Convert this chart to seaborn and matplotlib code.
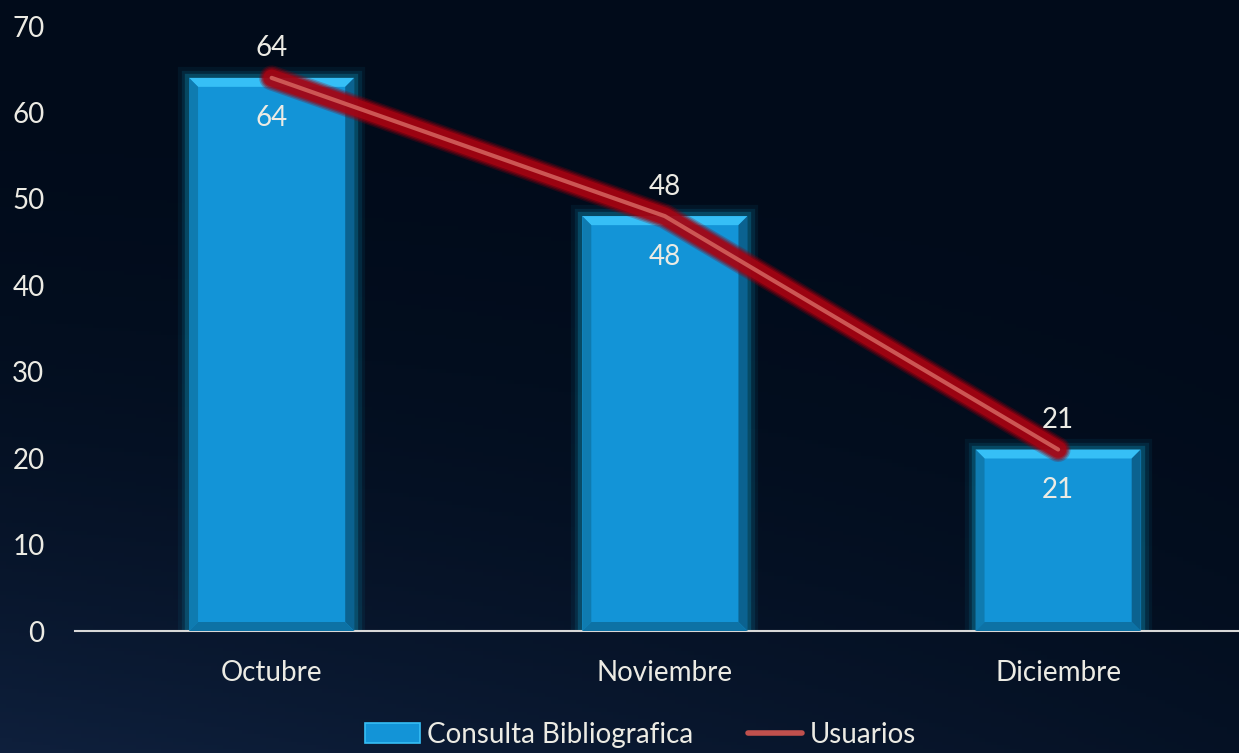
import numpy as np
import matplotlib
matplotlib.use("Agg")
import matplotlib.pyplot as plt
import matplotlib.patheffects as pe
from matplotlib.patches import Polygon, Patch
from matplotlib.lines import Line2D
import seaborn as sns

meses = ["Octubre", "Noviembre", "Diciembre"]
consulta = [64, 48, 21]
usuarios = [64, 48, 21]
yticks = [0, 10, 20, 30, 40, 50, 60, 70]

sns.set_theme(style="dark")
plt.rcParams['font.family'] = ['Lato', 'DejaVu Sans']

TXT = "#ecebe4"
BAR = "#1394d7"
FS = 20

fig = plt.figure(figsize=(12.39, 7.53), dpi=100)
fig.patch.set_facecolor("#020c1d")

# background gradient
bg = fig.add_axes([0, 0, 1, 1], zorder=-10)
yy, xx = np.mgrid[0:1:200j, 0:1:200j]
g = np.clip(0.55 * (1 - xx) * (1 - yy) ** 2 + 0.25 * (1 - yy) ** 3, 0, 1)
c0 = np.array([0x01, 0x0b, 0x1a]) / 255
c1 = np.array([0x12, 0x25, 0x45]) / 255
img = c0[None, None, :] + (c1 - c0)[None, None, :] * g[..., None]
bg.imshow(img[::-1], extent=[0, 1, 0, 1], aspect="auto", origin="upper")
bg.axis("off")

ax = fig.add_axes([75 / 1239, 122 / 753, 1164 / 1239, 605 / 753])
ax.set_facecolor("none")

sns.barplot(x=meses, y=consulta, color=BAR, width=0.42, saturation=1,
            ax=ax, zorder=2, edgecolor="none")
ax.set_xlim(-0.5, 2.46)
ax.set_ylim(0, 70)

fig.canvas.draw()
# bevel decoration derived from each bar patch
inv = ax.transData.inverted()
p0 = inv.transform((0, 0))
p1 = inv.transform((9, 9))
bx, by = p1 - p0
glow = [pe.Stroke(linewidth=16, foreground="#0a6a8c", alpha=0.12),
        pe.Stroke(linewidth=11, foreground="#0c7598", alpha=0.2),
        pe.Stroke(linewidth=6, foreground="#0e84aa", alpha=0.35),
        pe.Normal()]
for bar in list(ax.patches):
    bar.set_path_effects(glow)
    x0 = bar.get_x(); w = bar.get_width(); h = bar.get_height(); x1 = x0 + w
    top = Polygon([(x0, h), (x1, h), (x1 - bx, h - by), (x0 + bx, h - by)],
                  closed=True, facecolor="#36bff6", edgecolor="none", zorder=3)
    left = Polygon([(x0, 0), (x0, h), (x0 + bx, h - by), (x0 + bx, by)],
                   closed=True, facecolor="#0f7bb0", edgecolor="none", zorder=3)
    right = Polygon([(x1, 0), (x1, h), (x1 - bx, h - by), (x1 - bx, by)],
                    closed=True, facecolor="#0b6290", edgecolor="none", zorder=3)
    bot = Polygon([(x0, 0), (x1, 0), (x1 - bx, by), (x0 + bx, by)],
                  closed=True, facecolor="#0d72a5", edgecolor="none", zorder=3)
    for p in (top, left, right, bot):
        ax.add_patch(p)
    ax.text(x0 + w / 2, h - 4.7, f"{int(h)}", ha="center", va="center",
            color=TXT, fontsize=FS, zorder=6)

line_glow = [pe.Stroke(linewidth=18, foreground="#8a000f", alpha=0.25),
             pe.Stroke(linewidth=16, foreground="#96000f", alpha=0.35),
             pe.Stroke(linewidth=14, foreground="#a00010", alpha=0.5),
             pe.Stroke(linewidth=12, foreground="#a80412", alpha=0.75),
             pe.Normal()]
sns.lineplot(x=meses, y=usuarios, color="#cc5654", linewidth=3.0, ax=ax,
             zorder=5, sort=False, path_effects=line_glow)
for i, v in enumerate(usuarios):
    ax.text(i, v + 3.4, f"{v}", ha="center", va="center", color=TXT,
            fontsize=FS, zorder=6)

ax.set_yticks(yticks)
ax.set_xlabel("")
ax.set_ylabel("")
ax.grid(False)
for s in ("top", "right", "left"):
    ax.spines[s].set_visible(False)
ax.spines["bottom"].set_visible(True)
ax.spines["bottom"].set_color("#d8d8d8")
ax.spines["bottom"].set_linewidth(1.5)
ax.tick_params(axis="both", length=0, colors=TXT, labelsize=FS)
ax.tick_params(axis="y", pad=22)
ax.tick_params(axis="x", pad=21)
for lab in ax.get_yticklabels() + ax.get_xticklabels():
    lab.set_color(TXT)

handles = [Patch(facecolor=BAR, edgecolor="#36bff6", linewidth=1.2),
           Line2D([0], [0], color="#c0504d", linewidth=4)]
leg = fig.legend(handles, ["Consulta Bibliografica", "Usuarios"],
                 loc="center", bbox_to_anchor=(0.517, 0.024), ncol=2,
                 frameon=False, fontsize=FS, handlelength=1.95,
                 handleheight=0.7, handletextpad=0.25, columnspacing=2.0)
for t in leg.get_texts():
    t.set_color(TXT)

fig.savefig("out.png", dpi=100, facecolor=fig.get_facecolor())
